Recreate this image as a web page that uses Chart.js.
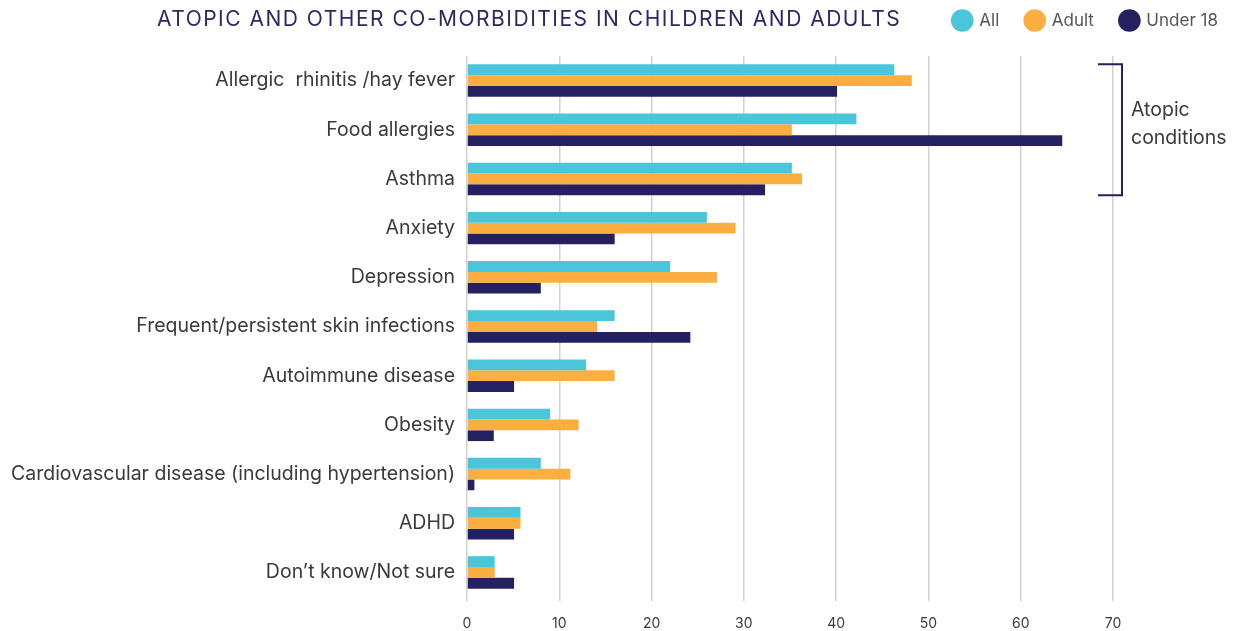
<!DOCTYPE html>
<html>
<head>
<meta charset="utf-8">
<script src="https://cdn.jsdelivr.net/npm/chart.js@4"></script>
<style>
  html, body { margin: 0; padding: 0; background: #fff; }
  #wrap { width: 1245px; height: 631px; }
</style>
</head>
<body>
<div id="wrap"><canvas id="myChart"></canvas></div>
<script>
const categories = ['Allergic  rhinitis /hay fever', 'Food allergies', 'Asthma', 'Anxiety', 'Depression',
	'Frequent/persistent skin infections', 'Autoimmune disease', 'Obesity',
	'Cardiovascular disease (including hypertension)', 'ADHD', 'Don\u2019t know/Not sure'];
const allValues = [46.3, 42.2, 35.2, 26.0, 22.0, 16.0, 12.9, 9.0, 8.0, 5.8, 3.0];
const adultValues = [48.2, 35.2, 36.3, 29.1, 27.1, 14.1, 16.0, 12.1, 11.2, 5.8, 3.0];
const under18Values = [40.1, 64.5, 32.3, 16.0, 8.0, 24.2, 5.1, 2.9, 0.8, 5.1, 5.1];
const xTicks = [0, 10, 20, 30, 40, 50, 60, 70];
const titleText = 'ATOPIC AND OTHER CO-MORBIDITIES IN CHILDREN AND ADULTS';
const bracketLines = ['Atopic', 'conditions'];

const navy = '#252161';
const textGrey = '#3a3a3a';
const fontFamily = 'Inter, Lato, sans-serif';

// title text and the "Atopic conditions" bracket
const extras = {
	id: 'extras',
	afterDraw(chart) {
		const c = chart.ctx;
		const area = chart.chartArea;
		const y = chart.scales.y;
		c.save();
		c.font = '21px ' + fontFamily;
		c.letterSpacing = '1.5px';
		c.fillStyle = '#2b2866';
		c.textAlign = 'left';
		c.textBaseline = 'middle';
		c.fillText(titleText, 157, 20);
		c.letterSpacing = '0px';

		const half = (y.getPixelForValue(1) - y.getPixelForValue(0)) * 0.33;
		const top = y.getPixelForValue(0) - half;
		const bottom = y.getPixelForValue(2) + half;
		c.strokeStyle = navy;
		c.lineWidth = 2;
		c.beginPath();
		c.moveTo(area.right - 15, top);
		c.lineTo(area.right + 9, top);
		c.lineTo(area.right + 9, bottom);
		c.lineTo(area.right - 15, bottom);
		c.stroke();

		c.font = '19.5px ' + fontFamily;
		c.fillStyle = textGrey;
		const mid = (top + bottom) / 2;
		c.fillText(bracketLines[0], area.right + 18, mid - 20);
		c.fillText(bracketLines[1], area.right + 18, mid + 8);
		c.restore();
	}
};

new Chart(document.getElementById('myChart'), {
	type: 'bar',
	data: {
		labels: categories,
		datasets: [
			{ label: 'All', data: allValues, backgroundColor: '#4BC5DA' },
			{ label: 'Adult', data: adultValues, backgroundColor: '#FCAF41' },
			{ label: 'Under 18', data: under18Values, backgroundColor: navy }
		]
	},
	options: {
		indexAxis: 'y',
		responsive: true,
		maintainAspectRatio: false,
		animation: false,
		layout: { padding: { top: -15, left: 0, right: 0, bottom: 0 } },
		datasets: {
			bar: { categoryPercentage: 0.66, barPercentage: 1.0, borderWidth: 0 }
		},
		plugins: {
			legend: {
				position: 'top',
				align: 'end',
				labels: {
					usePointStyle: true,
					pointStyle: 'circle',
					boxHeight: 16,
					padding: 27,
					color: '#555',
					font: { family: fontFamily, size: 17 }
				}
			},
			tooltip: { enabled: false }
		},
		scales: {
			x: {
				min: 0,
				max: 70,
				afterBuildTicks: s => { s.ticks = xTicks.map(v => ({ value: v })); },
				afterFit: s => { s.height = 34; },
				grid: { color: '#d2d2d2', lineWidth: 1.5, tickLength: 4 },
				border: { display: false },
				ticks: { color: textGrey, padding: 14, font: { family: fontFamily, size: 14 } }
			},
			y: {
				afterFit: s => { s.width = 467; },
				grid: { display: false, drawTicks: false },
				border: { display: false },
				ticks: { color: textGrey, padding: 12, font: { family: fontFamily, size: 19.5 } }
			},
			// spacers: keep room for the legend row and the bracket note
			xTop: {
				type: 'linear',
				position: 'top',
				afterFit: s => { s.height = 17; },
				grid: { display: false },
				border: { display: false },
				ticks: { display: false }
			},
			side: {
				type: 'linear',
				position: 'right',
				afterFit: s => { s.width = 132; },
				grid: { display: false },
				border: { display: false },
				ticks: { display: false }
			}
		}
	},
	plugins: [extras]
});
</script>
</body>
</html>
